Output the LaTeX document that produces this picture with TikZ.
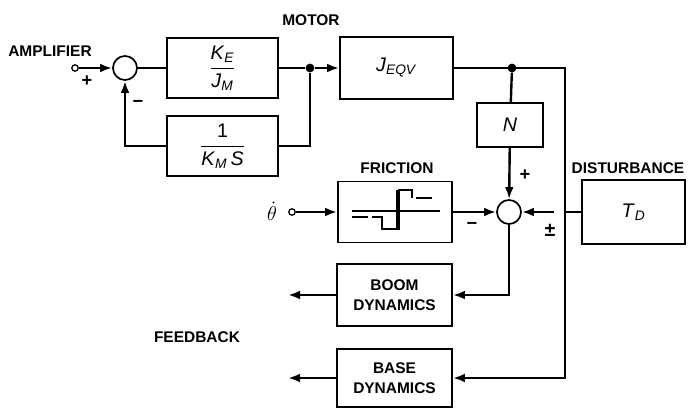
\documentclass[tikz,border=0pt]{standalone}
\usepackage{amsmath}
\usepackage{fontspec}
\setmainfont{Liberation Sans}
\usetikzlibrary{arrows.meta}

\newcommand{\vsym}[2]{\textit{#1}\textsubscript{\textit{#2}}}

\begin{document}
\begin{tikzpicture}[x=0.025cm,y=-0.025cm,>={Latex[length=3mm,width=2.2mm]},
  font=\fontsize{11}{13}\selectfont\bfseries,
  block/.style={draw,line width=1.2pt,inner sep=0pt,font=\fontsize{14}{16}\selectfont\mdseries},
  txtblock/.style={block,align=center},
  sumpt/.style={circle,draw,line width=1.2pt,minimum size=0.6cm,inner sep=0pt},
  port/.style={circle,draw,line width=0.9pt,minimum size=1.6mm,inner sep=0pt},
  jdot/.style={circle,fill,minimum size=2.2mm,inner sep=0pt},
  wire/.style={line width=1.7pt}]
  \useasboundingbox (0,0) rectangle (690,411);

  % forward loop
  \node[port] (ampin) at (75,68) {};
  \node (amplbl) at (50,51) {AMPLIFIER};
  \node[sumpt] (sum1) at (125,68) {};
  \node[block,minimum width=2.775cm,minimum height=1.5cm] (kejm) at (222.5,68)
    {$\dfrac{\text{\vsym{K}{E}}}{\text{\vsym{J}{M}}}$};
  \node[block,minimum width=2.775cm,minimum height=1.5cm] (kms) at (222.5,146)
    {$\dfrac{\text{1}}{\text{\vsym{K}{M}\,\textit{S}}}$};
  \node[jdot] (dot1) at (310,68) {};
  \node (motorlbl) at (311,20) {MOTOR};
  \node[block,minimum width=2.825cm,minimum height=1.55cm] (jeqv) at (396.5,68)
    {\vsym{J}{EQV}};
  \node[jdot] (dot2) at (512,68) {};
  \node[block,minimum width=1.65cm,minimum height=1.1cm] (nblk) at (510,125) {\textit{N}};
  \coordinate (rtop) at (565,68);

  % friction and disturbance
  \node[port] (thport) at (292,212) {};
  \node[font=\fontsize{14}{16}\selectfont,inner sep=1pt] (thlbl) at (272,211) {$\dot{\theta}$};
  \node (friclbl) at (397,168) {FRICTION};
  \node[block,minimum width=2.85cm,minimum height=1.525cm] (fric) at (395,212) {};
  \node[sumpt] (sum2) at (509,212) {};
  \node (distlbl) at (628,168) {DISTURBANCE};
  \node[block,minimum width=2.575cm,minimum height=1.6cm] (dist) at (633.5,212) {\vsym{T}{D}};
  \coordinate (xR) at (565,212);
  \coordinate (xL) at (554,212);

  % dynamics blocks
  \node[txtblock,minimum width=2.875cm,minimum height=1.55cm,font=\fontsize{11}{14}\selectfont\bfseries] (boom) at (394.5,295) {BOOM\\DYNAMICS};
  \node[txtblock,minimum width=2.875cm,minimum height=1.45cm,font=\fontsize{11}{14}\selectfont\bfseries] (base) at (394.5,378) {BASE\\DYNAMICS};
  \coordinate (boomout) at (288,295);
  \coordinate (baseout) at (288,378);
  \node (fblbl) at (197,337) {FEEDBACK};

  % signs
  \node[font=\fontsize{13}{14}\selectfont\bfseries] (s1) at (87,81) {+};
  \node[font=\fontsize{13}{14}\selectfont\bfseries] (s2) at (138,104) {\textminus};
  \node[font=\fontsize{13}{14}\selectfont\bfseries] (s3) at (525,175) {+};
  \node[font=\fontsize{13}{14}\selectfont\bfseries] (s4) at (472,226) {\textminus};
  \node[font=\fontsize{14}{14}\selectfont\bfseries] (s5) at (550,230) {\textpm};

  % friction characteristic
  \draw[line width=0.9pt] (352,211) -- (440,211);
  \draw[line width=0.9pt] (397,190) -- (397,230);
  \draw[line width=1.1pt] (352,217) -- (368,217);
  \draw[line width=1.1pt] (372,217) -- (382,217) -- (382,229) -- (399,229) -- (399,190)
    -- (412,190) -- (412,198);
  \draw[line width=1.1pt] (416,198) -- (432,198);

  % connectors
  \draw[wire,->] (ampin) -- (sum1);
  \draw[wire] (sum1) -- (kejm);
  \draw[wire] (kejm) -- (dot1);
  \draw[wire,->] (dot1) -- (jeqv);
  \draw[wire] (dot1) |- (kms.east);
  \draw[wire,->] (kms.west) -| (sum1.south);
  \draw[wire,->] (jeqv.east) -- (rtop) |- (base.east);
  \draw[wire] (dot2) -- (nblk);
  \draw[wire,->] (nblk) -- (sum2);
  \draw[wire,->] (thport) -- (fric);
  \draw[wire,->] (fric) -- (sum2);
  \draw[wire] (dist.west) -- (xR);
  \draw[wire,->] (xL) -- (sum2.east);
  \draw[wire,->] (sum2.south) |- (boom.east);
  \draw[wire,->] (boom.west) -- (boomout);
  \draw[wire,->] (base.west) -- (baseout);
\end{tikzpicture}
\end{document}
